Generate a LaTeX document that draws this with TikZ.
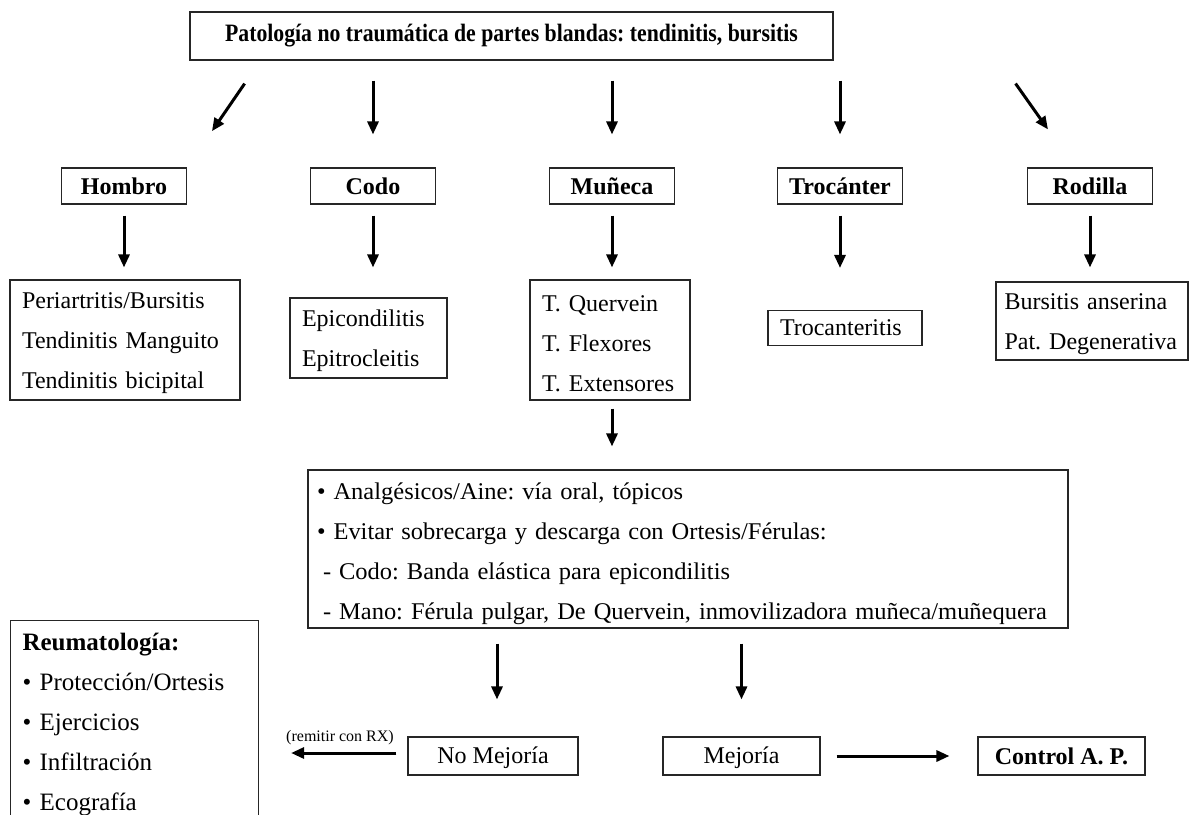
\documentclass[tikz,border=0pt]{standalone}
\usepackage{fontspec}
\setmainfont{Liberation Serif}
\newfontfamily\titlefont{Liberation Serif}[FakeStretch=0.87]
\newfontfamily\widefont{Liberation Serif}[FakeStretch=1.02]
\usetikzlibrary{arrows.meta, positioning}
\frenchspacing
\newcommand{\topgap}[1]{\rule{0pt}{#1}}

\begin{document}
\begin{tikzpicture}[x=1pt, y=-1pt, every node/.style={font=\fontsize{24}{40}\selectfont},
  box/.style={draw=black!85, line width=1.1pt, inner sep=0pt, align=center},
  head/.style={box, font=\bfseries\fontsize{24}{28}\selectfont, minimum width=125pt, minimum height=36pt},
  lst/.style={box, align=left, inner xsep=12pt},
  arr/.style={-{Triangle[length=13pt, width=11pt]}, line width=3pt}]
  \useasboundingbox (0,0) rectangle (1194,814);
  \node[box, minimum width=643pt, minimum height=48pt, font=\titlefont\bfseries\fontsize{25}{28}\selectfont] (title) at (511.5,36) {Patología no traumática de partes blandas: tendinitis, bursitis};
  \node[head] (hombro) at (124,186) {Hombro};
  \node[head] (codo) at (373,186) {Codo};
  \node[head] (muneca) at (612,186) {Muñeca};
  \node[head] (trocanter) at (840,186) {Trocánter};
  \node[head] (rodilla) at (1090,186) {Rodilla};
  \node[lst, text width=206pt, minimum height=120pt] (hombroLst) at (125,340) {\topgap{23pt}Periartritis/Bursitis\\Tendinitis Manguito\\Tendinitis bicipital};
  \node[lst, text width=133pt, minimum height=80pt] (codoLst) at (368.5,338) {\topgap{23pt}Epicondilitis\\Epitrocleitis};
  \node[lst, text width=136pt, minimum height=120pt] (munecaLst) at (610,340) {\topgap{23pt}T. Quervein\\T. Flexores\\T. Extensores};
  \node[lst, text width=130pt, minimum height=35pt] (trocLst) at (845,328) {Trocanteritis};
  \node[lst, inner xsep=8.5pt, text width=175pt, minimum height=78pt] (rodillaLst) at (1092,321) {\topgap{23pt}Bursitis anserina\\Pat. Degenerativa};
  \node[lst, inner xsep=9pt, text width=742pt, minimum height=158pt, font=\widefont\fontsize{24}{40}\selectfont] (treat) at (688,549) {\topgap{27pt}• Analgésicos/Aine: vía oral, tópicos\\• Evitar sobrecarga y descarga con Ortesis/Férulas:\\\hspace*{6pt}- Codo: Banda elástica para epicondilitis\\\hspace*{6pt}- Mano: Férula pulgar, De Quervein, inmovilizadora muñeca/muñequera};
  \node[box, minimum width=170pt, minimum height=38pt, text height=18pt, text depth=4pt] (nomejora) at (493,756) {No Mejoría};
  \node[box, minimum width=157pt, minimum height=38pt, text height=18pt, text depth=4pt] (mejora) at (741.5,756) {Mejoría};
  \node[box, minimum width=167pt, minimum height=38pt, font=\bfseries\fontsize{24}{28}\selectfont] (control) at (1061.5,756) {Control A. P.};
  \node[lst, anchor=north west, text width=224pt, minimum height=207pt, font=\fontsize{25}{40}\selectfont] (reuma) at (10,620) {\textbf{Reumatología:}\\• Protección/Ortesis\\• Ejercicios\\• Infiltración\\• Ecografía};
  \node[font=\fontsize{16}{18}\selectfont] (rx) at (340,738) {(remitir con RX)};
  % from the title
  \draw[arr, shorten <=28pt, shorten >=44pt] ([xshift=71pt]title.south west) -- (hombro.north east);
  \draw[arr, shorten <=20pt, shorten >=33pt] (codo |- title.south) -- (codo);
  \draw[arr, shorten <=20pt, shorten >=33pt] (muneca |- title.south) -- (muneca);
  \draw[arr, shorten <=20pt, shorten >=33pt] (trocanter |- title.south) -- (trocanter);
  \draw[arr] ([shift={(182,23)}]title.south east) -- ([shift={(-42,-38)}]rodilla.north);
  % to the lists
  \draw[arr, shorten <=11pt, shorten >=12pt] (hombro) -- (hombro |- hombroLst.north);
  \draw[arr, shorten <=11pt, shorten >=30pt] (codo) -- (codo |- codoLst.north);
  \draw[arr, shorten <=11pt, shorten >=12pt] (muneca) -- (muneca |- munecaLst.north);
  \draw[arr, shorten <=11pt, shorten >=42pt] (trocanter) -- (trocanter |- trocLst.north);
  \draw[arr, shorten <=11pt, shorten >=14pt] (rodilla) -- (rodilla |- rodillaLst.north);
  \draw[arr, shorten <=8pt, shorten >=23pt] (muneca |- munecaLst.south) -- (muneca |- treat.north);
  % outcome
  \draw[arr, shorten <=15pt, shorten >=37pt] ([xshift=4pt]nomejora.north |- treat.south) -- ([xshift=4pt]nomejora.north);
  \draw[arr, shorten <=15pt, shorten >=37pt] (mejora |- treat.south) -- (mejora);
  \draw[arr, shorten <=16pt, shorten >=28pt] (mejora) -- (control);
  \draw[arr, shorten <=11pt, shorten >=32pt] ([yshift=3pt]nomejora.west) -- ([yshift=3pt]nomejora.west -| reuma.east);
\end{tikzpicture}
\end{document}
